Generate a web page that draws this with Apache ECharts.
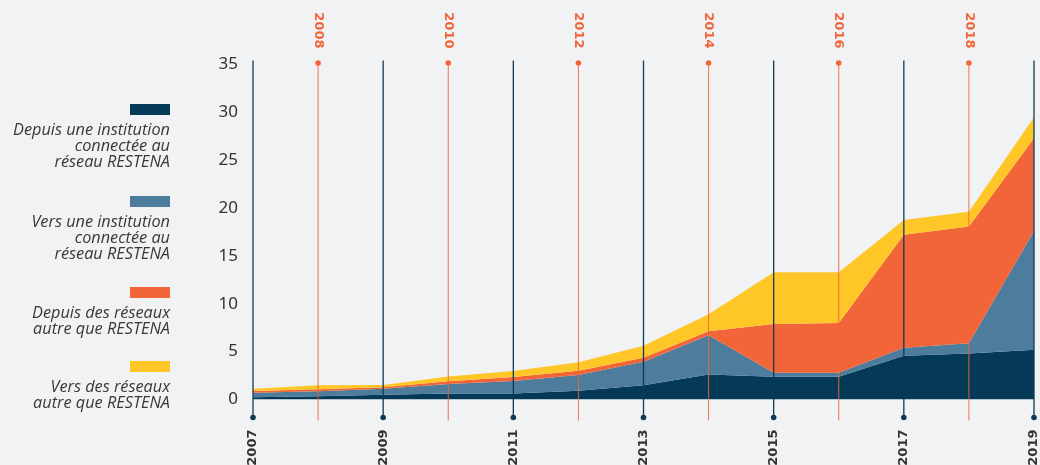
<!DOCTYPE html>
<html>
<head>
<meta charset="utf-8">
<script src="https://cdn.jsdelivr.net/npm/echarts@6/dist/echarts.min.js"></script>
<style>
  html, body { margin: 0; padding: 0; background: #f1f2f4; }
  #chart { width: 1040px; height: 465px; }
</style>
</head>
<body>
<div id="chart"></div>
<script>
// années (axe horizontal)
const years = ['2007','2008','2009','2010','2011','2012','2013','2014','2015','2016','2017','2018','2019'];

// noms des séries, avec retours à la ligne pour la légende
const seriesNames = [
  'Depuis une institution\nconnectée au\nréseau RESTENA',
  'Vers une institution\nconnectée au\nréseau RESTENA',
  'Depuis des réseaux\nautre que RESTENA',
  'Vers des réseaux\nautre que RESTENA'
];

// valeurs empilées
const depuisInstitution = [0.23, 0.35, 0.5, 0.62, 0.62, 0.92, 1.5, 2.6, 2.38, 2.38, 4.58, 4.8, 5.2];
const versInstitution   = [0.47, 0.5, 0.63, 1.0, 1.31, 1.64, 2.45, 4.1, 0.42, 0.42, 0.82, 1.07, 12.4];
const depuisReseaux     = [0.18, 0.21, 0.16, 0.28, 0.42, 0.44, 0.42, 0.43, 5.1, 5.2, 11.8, 12.2, 9.7];
const versReseaux       = [0.24, 0.42, 0.23, 0.5, 0.63, 0.9, 1.25, 1.77, 5.4, 5.3, 1.55, 1.54, 2.2];

// graduations de l'axe vertical
const yTicks = { min: 0, max: 35, step: 5 };

const colors = ['#043a58', '#4d7c9c', '#f26539', '#fec727'];
const navy = '#0d3b56';
const orange = '#f26539';

const chart = echarts.init(document.getElementById('chart'));

const dataSets = [depuisInstitution, versInstitution, depuisReseaux, versReseaux];

const areaSeries = dataSets.map((d, i) => ({
  name: seriesNames[i],
  type: 'line',
  stack: 'total',
  data: d,
  symbol: 'none',
  lineStyle: { width: 0 },
  areaStyle: { color: colors[i], opacity: 1 },
  itemStyle: { color: colors[i] },
  z: 2
}));

// lignes verticales par année (+ étiquettes des années impaires en bas)
const yearLines = {
  type: 'custom',
  data: years.map((y, i) => [i]),
  encode: { x: 0 },
  z: 5,
  silent: true,
  renderItem: function (params, api) {
    const idx = api.value(0);
    const x = api.coord([idx, 0])[0];
    const cs = params.coordSys;
    const top = cs.y, bottom = cs.y + cs.height;
    if (idx % 2 === 0) {
      return {
        type: 'group',
        children: [
          { type: 'line', shape: { x1: x, y1: top - 4, x2: x, y2: bottom + 18 }, style: { stroke: navy, lineWidth: 1.3 } },
          { type: 'circle', shape: { cx: x, cy: bottom + 18, r: 2.8 }, style: { fill: navy } },
          {
            type: 'text', x: x, y: bottom + 30, rotation: Math.PI / 2,
            style: {
              text: years[idx], align: 'right', verticalAlign: 'middle',
              fill: '#333', font: 'bold 13px "DejaVu Sans"'
            }
          }
        ]
      };
    }
    return {
      type: 'group',
      children: [
        { type: 'line', shape: { x1: x, y1: top - 1.5, x2: x, y2: bottom + 21 }, style: { stroke: orange, lineWidth: 1, opacity: 0.9 } },
        { type: 'circle', shape: { cx: x, cy: top - 1.5, r: 2.8 }, style: { fill: orange } }
      ]
    };
  }
};

// légende dessinée à gauche
const legendTops = [104, 196, 287, 361];
const legendGraphics = [];
seriesNames.forEach((n, i) => {
  legendGraphics.push({
    type: 'rect', x: 130, y: legendTops[i],
    shape: { width: 40, height: 11 },
    style: { fill: colors[i] }
  });
  legendGraphics.push({
    type: 'text', x: 170, y: legendTops[i] + 18,
    style: {
      text: n, fill: '#383838', align: 'right', verticalAlign: 'top',
      font: 'italic 16.3px "Open Sans"', lineHeight: 16.3
    }
  });
});

const option = {
  backgroundColor: '#f1f2f4',
  animation: false,
  grid: { left: 253, right: 6, top: 64.5, height: 335, containLabel: false, outerBoundsMode: 'none' },
  graphic: legendGraphics,
  xAxis: [
    {
      type: 'category', data: years, boundaryGap: false, position: 'bottom',
      axisLine: { show: false }, axisTick: { show: false }, splitLine: { show: false },
      axisLabel: { show: false }
    },
    {
      type: 'category', data: years, boundaryGap: false, position: 'top',
      axisLine: { show: false }, axisTick: { show: false }, splitLine: { show: false },
      axisLabel: {
        interval: function (index) { return index % 2 === 1; },
        rotate: 90, margin: 16,
        color: orange, fontFamily: 'DejaVu Sans', fontWeight: 'bold', fontSize: 13
      }
    }
  ],
  yAxis: {
    type: 'value', min: yTicks.min, max: yTicks.max, interval: yTicks.step,
    axisLine: { show: false }, axisTick: { show: false }, splitLine: { show: false },
    axisLabel: { color: '#333', fontFamily: 'Noto Sans', fontSize: 17, margin: 15 }
  },
  series: [...areaSeries, yearLines]
};

chart.setOption(option);
</script>
</body>
</html>
